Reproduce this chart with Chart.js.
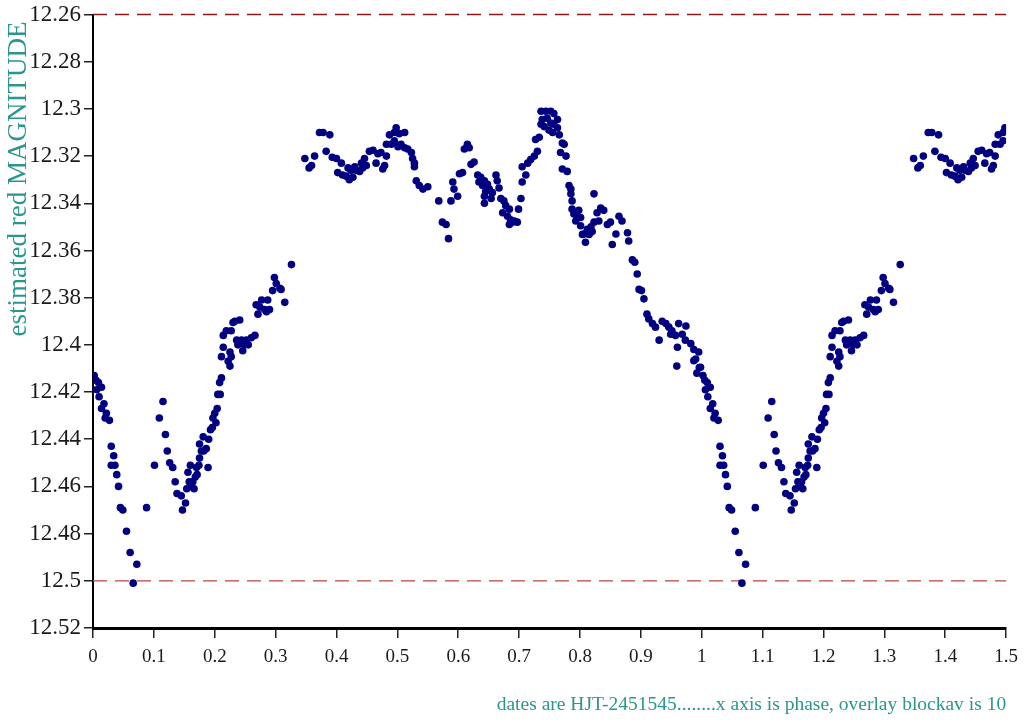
<!DOCTYPE html>
<html>
<head>
<meta charset="utf-8">
<script src="https://cdn.jsdelivr.net/npm/chart.js@4.4.1/dist/chart.umd.min.js"></script>
<style>
  body { margin: 0; background: #fff; }
  #wrap { width: 1026px; height: 722px; }
</style>
</head>
<body>
<div id="wrap"><canvas id="myChart" width="1026" height="722"></canvas></div>
<script>
//////// data: phase 0..1 (one cycle), overlay of phase 0..0.5 is added at +1
const phase = [
  0.002, 0.005, 0.009, 0.006, 0.014, 0.010, 0.018, 0.014, 0.022, 0.020, 0.027, 0.030, 0.034, 0.030, 0.036, 0.039,
  0.042, 0.045, 0.049, 0.055, 0.061, 0.072, 0.066, 0.088, 0.101, 0.109, 0.115, 0.119, 0.122, 0.126, 0.131, 0.135,
  0.138, 0.145, 0.147, 0.152, 0.154, 0.156, 0.160, 0.158, 0.162, 0.166, 0.168, 0.171, 0.174, 0.175, 0.178, 0.175,
  0.181, 0.182, 0.186, 0.189, 0.190, 0.193, 0.196, 0.197, 0.202, 0.200, 0.204, 0.205, 0.208, 0.211, 0.209, 0.164,
  0.170,
  0.211, 0.214, 0.222, 0.225, 0.227, 0.225, 0.214, 0.219, 0.227, 0.230, 0.233, 0.241, 0.236, 0.244, 0.252, 0.260,
  0.266, 0.238, 0.249, 0.246, 0.255, 0.268, 0.271, 0.274, 0.277, 0.282, 0.285, 0.287, 0.290, 0.295, 0.298, 0.301,
  0.307, 0.309, 0.315, 0.326,
  0.348, 0.355, 0.359, 0.364, 0.372, 0.378, 0.389, 0.383, 0.393, 0.400, 0.408, 0.402, 0.410, 0.416, 0.421, 0.427,
  0.432, 0.438, 0.443, 0.449, 0.424, 0.419, 0.430, 0.441, 0.446, 0.454, 0.460, 0.468, 0.473, 0.482, 0.465, 0.476,
  0.479, 0.482, 0.487, 0.495, 0.498, 0.503, 0.512, 0.490, 0.495, 0.501, 0.506, 0.512, 0.517, 0.523, 0.525, 0.528,
  0.528, 0.531, 0.536, 0.542, 0.550, 0.568, 0.574, 0.580, 0.584, 0.588, 0.593, 0.591, 0.599, 0.602, 0.607, 0.610,
  0.615, 0.618, 0.621, 0.626, 0.632, 0.637, 0.634, 0.643, 0.640, 0.648, 0.645, 0.651, 0.656, 0.643, 0.654, 0.643,
  0.662, 0.664, 0.667, 0.670, 0.675, 0.678, 0.684, 0.673, 0.681, 0.686, 0.692, 0.684, 0.689, 0.697, 0.699, 0.703,
  0.705, 0.711, 0.705, 0.714, 0.719, 0.725, 0.730, 0.727, 0.733, 0.736, 0.741, 0.738, 0.736, 0.744, 0.752, 0.757,
  0.746, 0.752, 0.757, 0.763, 0.749, 0.755, 0.763, 0.766, 0.771, 0.774, 0.768, 0.777, 0.771, 0.779, 0.782, 0.785,
  0.785, 0.787, 0.787, 0.790, 0.796, 0.801, 0.798, 0.801, 0.807, 0.812, 0.809, 0.818, 0.823, 0.828, 0.823,
  0.793, 0.804, 0.815, 0.820, 0.831, 0.834, 0.839, 0.845, 0.850, 0.864, 0.869, 0.878, 0.880, 0.859, 0.853, 0.886,
  0.890, 0.894, 0.897, 0.901, 0.905, 0.910, 0.913, 0.919, 0.924, 0.930, 0.935, 0.941, 0.946, 0.951, 0.957, 0.949,
  0.962, 0.974, 0.968, 0.973, 0.982, 0.987, 0.995, 0.990, 0.998, 0.960, 0.959, 0.992, 0.987, 0.996
];
const mag = [
  12.413, 12.415, 12.416, 12.419, 12.418, 12.422, 12.425, 12.427, 12.429, 12.431, 12.432, 12.443, 12.447, 12.451, 12.451, 12.455,
  12.460, 12.469, 12.470, 12.479, 12.488, 12.493, 12.501, 12.469, 12.451, 12.431, 12.424, 12.438, 12.445, 12.450, 12.452, 12.458,
  12.463, 12.464, 12.470, 12.467, 12.461, 12.454, 12.451, 12.458, 12.460, 12.461, 12.456, 12.455, 12.451, 12.448, 12.445, 12.442,
  12.439, 12.445, 12.444, 12.452, 12.440, 12.436, 12.435, 12.431, 12.433, 12.429, 12.427, 12.421, 12.416, 12.414, 12.421, 12.458,
  12.452,
  12.405, 12.401, 12.407, 12.403, 12.405, 12.409, 12.396, 12.394, 12.394, 12.3905, 12.390, 12.3895, 12.398, 12.398, 12.398, 12.397,
  12.396, 12.400, 12.400, 12.4025, 12.400, 12.383, 12.387, 12.384, 12.381, 12.385, 12.386, 12.381, 12.385, 12.377, 12.3715, 12.374,
  12.376, 12.3765, 12.382, 12.366,
  12.321, 12.325, 12.324, 12.320, 12.310, 12.310, 12.311, 12.318, 12.3205, 12.321, 12.323, 12.327, 12.328, 12.3285, 12.330, 12.329,
  12.326, 12.3265, 12.325, 12.324, 12.326, 12.325, 12.3245, 12.323, 12.321, 12.318, 12.3175, 12.319, 12.3185, 12.320, 12.323, 12.3255,
  12.324, 12.315, 12.311, 12.310, 12.308, 12.3105, 12.310, 12.315, 12.3135, 12.316, 12.315, 12.3165, 12.317, 12.3185, 12.321, 12.323,
  12.3245, 12.3305, 12.3325, 12.334, 12.333, 12.339, 12.348, 12.349, 12.355, 12.339, 12.334, 12.331, 12.337, 12.3275, 12.327, 12.317,
  12.315, 12.3165, 12.3235, 12.3225, 12.328, 12.329, 12.331, 12.3305, 12.3325, 12.332, 12.335, 12.334, 12.3355, 12.337, 12.338, 12.340,
  12.328, 12.3305, 12.3335, 12.338, 12.339, 12.341, 12.3425, 12.344, 12.3455, 12.347, 12.3475, 12.349, 12.348, 12.348, 12.3425, 12.338,
  12.331, 12.328, 12.3245, 12.323, 12.3215, 12.320, 12.318, 12.313, 12.312, 12.3065, 12.3075, 12.3045, 12.301, 12.301, 12.301, 12.302,
  12.304, 12.306, 12.3065, 12.3045, 12.309, 12.310, 12.308, 12.311, 12.3145, 12.315, 12.3185, 12.320, 12.3255, 12.3265, 12.3325, 12.334,
  12.336, 12.339, 12.3425, 12.3445, 12.3455, 12.346, 12.343, 12.3495, 12.353, 12.351, 12.3565, 12.350, 12.348, 12.344, 12.336,
  12.3475, 12.3532, 12.3532, 12.352, 12.3475, 12.342, 12.343, 12.349, 12.348, 12.3455, 12.3475, 12.3525, 12.356, 12.353, 12.3575, 12.364,
  12.365, 12.370, 12.3765, 12.377, 12.3805, 12.387, 12.389, 12.391, 12.3925, 12.398, 12.390, 12.391, 12.3925, 12.394, 12.396, 12.3955,
  12.391, 12.392, 12.3955, 12.398, 12.3995, 12.402, 12.403, 12.406, 12.4095, 12.401, 12.409, 12.412, 12.4067, 12.4096
];
const overlayUpTo = 0.5;     // phases 0..0.5 repeated after 1
const refMags = [12.26, 12.5];
const xTicks = { min: 0, max: 1.5, step: 0.1 };
const yTicks = { min: 12.26, max: 12.52, step: 0.02 };

const yTitle = 'estimated red MAGNITUDE';
const xTitle = 'dates are HJT-2451545........x axis is phase, overlay blockav is 10';

//////// build points
const points = [];
phase.forEach((p, i) => {
  points.push({ x: p, y: mag[i] });
});
phase.forEach((p, i) => {
  if (p <= overlayUpTo) points.push({ x: p + 1, y: mag[i] });
});

const serif = '"Liberation Serif", "Times New Roman", serif';
const teal = '#2a968f';

const refLine = (m, color, w) => ({
  type: 'line',
  data: [{ x: xTicks.min, y: m }, { x: xTicks.max, y: m }],
  borderColor: color,
  borderWidth: w,
  borderDash: [14, 8],
  pointRadius: 0,
  showLine: true,
  fill: false,
  clip: 4,
});

// y title drawn by hand: reversed axis flips chart.js title alignment
const yTitlePlugin = {
  id: 'yTitle',
  afterDraw(c) {
    const g = c.ctx;
    g.save();
    g.translate(19, c.chartArea.top + 7);
    g.rotate(-Math.PI / 2);
    g.font = '27px ' + serif;
    g.fillStyle = teal;
    g.textAlign = 'right';
    g.textBaseline = 'middle';
    g.fillText(yTitle, 0, 0);
    g.restore();
  },
};

//////// chart
const ctx = document.getElementById('myChart').getContext('2d');
const chart = new Chart(ctx, {
  type: 'scatter',
  data: {
    datasets: [
      {
        data: points,
        backgroundColor: '#000080',
        borderColor: '#000080',
        borderWidth: 0,
        pointRadius: 3.8,
        pointHoverRadius: 3.8,
      },
      refLine(refMags[0], '#8b1a1a', 1.5),
      refLine(refMags[1], '#b84444', 1.3),
    ],
  },
  options: {
    responsive: false,
    animation: false,
    events: [],
    layout: { padding: { top: 13, right: 18, left: 0, bottom: 0 } },
    plugins: { legend: { display: false }, tooltip: { enabled: false } },
    scales: {
      x: {
        type: 'linear',
        min: xTicks.min,
        max: xTicks.max,
        afterFit: (s) => { s.height = 94; },
        border: { color: '#000', width: 3 },
        grid: { drawOnChartArea: false, drawTicks: true, tickLength: 10, color: '#222', lineWidth: 1.5 },
        ticks: {
          stepSize: xTicks.step,
          padding: 8,
          color: '#1a1a1a',
          font: { family: serif, size: 19 },
          maxRotation: 0,
          callback: (v) => +v.toFixed(1),
        },
        title: {
          display: true,
          text: xTitle,
          align: 'end',
          color: teal,
          font: { family: serif, size: 19.5, lineHeight: 1.2 },
          padding: { top: 0, bottom: 5 },
        },
      },
      y: {
        type: 'linear',
        reverse: true,
        min: yTicks.min,
        max: yTicks.max,
        afterFit: (s) => { s.width = 93; },
        border: { color: '#000', width: 2 },
        grid: { drawOnChartArea: false, drawTicks: true, tickLength: 9, color: '#222', lineWidth: 1.5 },
        ticks: {
          stepSize: yTicks.step,
          padding: 3,
          color: '#1a1a1a',
          font: { family: serif, size: 23, lineHeight: 1 },
          callback: (v) => +v.toFixed(2),
        },
      },
    },
  },
  plugins: [yTitlePlugin],
});
</script>
</body>
</html>
